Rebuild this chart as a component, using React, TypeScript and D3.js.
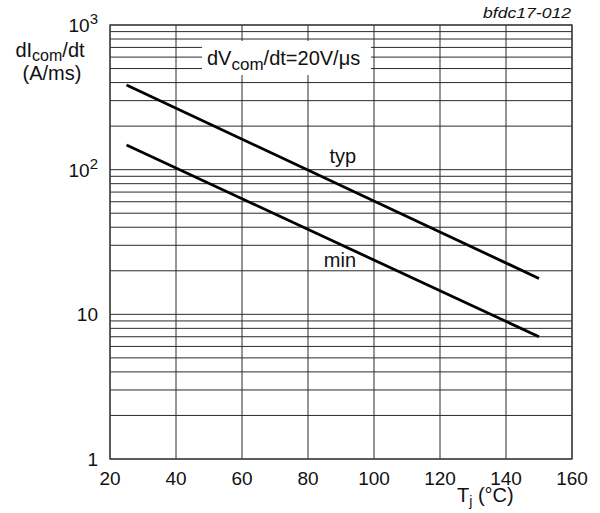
import React, { useEffect, useRef } from 'react'
import * as d3 from 'd3'

// junction temperature (°C) at curve ends
const temps = [25, 150]
// dIcom/dt (A/ms)
const typVals = [385, 17.7]
const minVals = [148, 7.0]

const xTicks = [20, 40, 60, 80, 100, 120, 140, 160]
const yDecades = [1, 10, 100, 1000]
const yDecadeLabels = [
  { base: '1', exp: '' },
  { base: '10', exp: '' },
  { base: '10', exp: '2' },
  { base: '10', exp: '3' },
]

const FONT = '"Liberation Sans", Arial, Helvetica, sans-serif'

const App = () => {
  const ref = useRef<SVGSVGElement>(null)

  useEffect(() => {
    const width = 600
    const height = 513
    const margin = { top: 25, right: 28, bottom: 54, left: 110 }

    const svg = d3.select(ref.current)
    svg.selectAll('*').remove()
    svg.attr('viewBox', [0, 0, width, height])
      .attr('font-family', FONT)

    const x = d3.scaleLinear()
      .domain([20, 160])
      .range([margin.left, width - margin.right])

    const y = d3.scaleLog()
      .domain([1, 1000])
      .range([height - margin.bottom, margin.top])

    const grid = svg.append('g')
      .attr('stroke', '#2a2a2a')
      .attr('stroke-width', 1)

    // minor/major horizontal grid lines
    const hVals: number[] = []
    for (const d of [1, 10, 100]) {
      for (let k = 1; k <= 9; k++) hVals.push(d * k)
    }
    hVals.push(1000)

    grid.selectAll('.h')
      .data(hVals)
      .join('line')
      .attr('class', 'h')
      .attr('x1', x(20))
      .attr('x2', x(160))
      .attr('y1', d => y(d))
      .attr('y2', d => y(d))

    grid.selectAll('.v')
      .data(xTicks)
      .join('line')
      .attr('class', 'v')
      .attr('x1', d => x(d))
      .attr('x2', d => x(d))
      .attr('y1', y(1))
      .attr('y2', y(1000))

    // frame
    svg.append('rect')
      .attr('x', x(20))
      .attr('y', y(1000))
      .attr('width', x(160) - x(20))
      .attr('height', y(1) - y(1000))
      .attr('fill', 'none')
      .attr('stroke', '#444')
      .attr('stroke-width', 1.4)

    // condition box
    svg.append('rect')
      .attr('x', 202)
      .attr('y', 41)
      .attr('width', 169)
      .attr('height', 34)
      .attr('fill', '#fff')

    const cond = svg.append('text')
      .attr('x', 207)
      .attr('y', 65)
      .attr('font-size', 20)
      .attr('fill', '#111')
    cond.append('tspan').text('dV')
    cond.append('tspan').attr('font-size', 17).attr('dy', 5).text('com')
    cond.append('tspan').attr('dy', -5).text('/dt=20V/μs')

    const line = d3.line<number>()
      .x((d, i) => x(temps[i]))
      .y(d => y(d))

    svg.append('g')
      .attr('fill', 'none')
      .attr('stroke', '#000')
      .attr('stroke-width', 2.8)
      .selectAll('path')
      .data([typVals, minVals])
      .join('path')
      .attr('d', d => line(d))

    svg.append('text')
      .attr('x', x(86.5))
      .attr('y', y(111))
      .attr('font-size', 20)
      .attr('fill', '#111')
      .text('typ')

    svg.append('text')
      .attr('x', x(84.8))
      .attr('y', y(21.3))
      .attr('font-size', 20)
      .attr('fill', '#111')
      .text('min')

    // x tick labels
    svg.append('g')
      .attr('font-size', 19)
      .attr('fill', '#111')
      .attr('text-anchor', 'middle')
      .selectAll('text')
      .data(xTicks)
      .join('text')
      .attr('x', d => x(d))
      .attr('y', 485)
      .text(d => d)

    // y tick labels
    const yl = svg.append('g')
      .attr('font-size', 19)
      .attr('fill', '#111')
      .attr('text-anchor', 'end')
      .selectAll('text')
      .data(yDecades)
      .join('text')
      .attr('x', 98)
      .attr('y', d => y(d) + 7)
    yl.append('tspan').text((d, i) => yDecadeLabels[i].base)
    yl.append('tspan')
      .attr('font-size', 15)
      .attr('dy', -8)
      .text((d, i) => yDecadeLabels[i].exp)

    // y title
    const yt = svg.append('text')
      .attr('x', 50)
      .attr('y', 57)
      .attr('font-size', 20)
      .attr('fill', '#111')
      .attr('text-anchor', 'middle')
    yt.append('tspan').text('dI')
    yt.append('tspan').attr('font-size', 16).attr('dy', 4).text('com')
    yt.append('tspan').attr('dy', -4).text('/dt')
    svg.append('text')
      .attr('x', 52)
      .attr('y', 80)
      .attr('font-size', 20)
      .attr('fill', '#111')
      .attr('text-anchor', 'middle')
      .text('(A/ms)')

    // x title
    const xt = svg.append('text')
      .attr('x', 457)
      .attr('y', 502)
      .attr('font-size', 20)
      .attr('fill', '#111')
    xt.append('tspan').text('T')
    xt.append('tspan').attr('font-size', 14).attr('dy', 4).text('j')
    xt.append('tspan').attr('dy', -4).text(' (°C)')

    svg.append('text')
      .attr('x', 571)
      .attr('y', 18)
      .attr('font-size', 14)
      .attr('font-style', 'italic')
      .attr('fill', '#111')
      .attr('text-anchor', 'end')
      .attr('textLength', 88)
      .attr('lengthAdjust', 'spacingAndGlyphs')
      .text('bfdc17-012')
  }, [])

  return <div style={{ position: 'absolute', left: 0, top: 0, width: 600, height: 513 }}>
    <svg ref={ref} width={600} height={513} style={{ display: 'block' }} />
  </div>
}

export default App
